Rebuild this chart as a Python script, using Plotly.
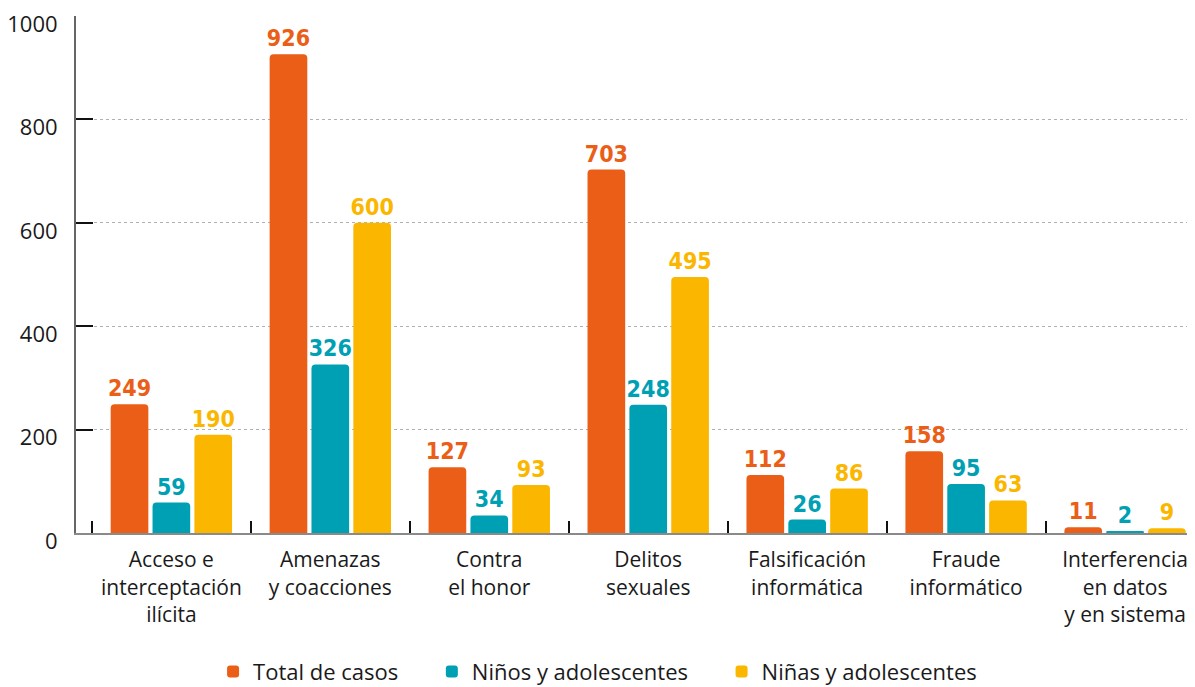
import plotly.graph_objects as go

categories = [
    "Acceso e<br>interceptación<br>ilícita",
    "Amenazas<br>y coacciones",
    "Contra<br>el honor",
    "Delitos<br>sexuales",
    "Falsificación<br>informática",
    "Fraude<br>informático",
    "Interferencia<br>en datos<br>y en sistema",
]
total = [249, 926, 127, 703, 112, 158, 11]
ninos = [59, 326, 34, 248, 26, 95, 2]
ninas = [190, 600, 93, 495, 86, 63, 9]

pad = "\u00a0" * 5
series = [
    ("Total de casos" + pad, total, "#EB5E17"),
    ("Niños y adolescentes" + pad, ninos, "#00A0B4"),
    ("Niñas y adolescentes", ninas, "#FBB600"),
]

label_font = "DejaVu Sans Condensed"
main_font = "Open Sans, Lato, sans-serif"

fig = go.Figure()
for name, vals, col in series:
    fig.add_trace(go.Bar(
        name=name, x=categories, y=vals,
        marker=dict(color=col, line=dict(width=0)),
        text=[str(v) for v in vals], textposition="outside",
        textfont=dict(family=label_font, size=23, color=col, weight="bold"),
        cliponaxis=False, constraintext="none",
    ))

# page body adds an 8px offset; figure is sized to fit the viewport
fig.update_layout(
    width=1187, height=679,
    margin=dict(l=68, r=0, t=8, b=154, autoexpand=False),
    paper_bgcolor="white", plot_bgcolor="white",
    barmode="group", bargap=0.21, bargroupgap=0.1,
    barcornerradius=4,
    font=dict(family=main_font, size=21, color="#1a1a1a"),
    showlegend=True,
    legend=dict(orientation="h", x=0.1225, xanchor="left", y=-0.2685, yanchor="middle",
                font=dict(size=22, family=main_font), traceorder="normal"),
)
fig.update_xaxes(
    range=[-0.6, 6.44], automargin=False,
    showline=True, linecolor="#8a8a8a", linewidth=2,
    ticks="inside", tickson="boundaries", ticklen=12, tickcolor="#111", tickwidth=1.5,
    showgrid=False, tickfont=dict(size=21), ticklabelstandoff=7,
)
fig.update_yaxes(
    range=[0, 1000], tickvals=[0, 200, 400, 600, 800, 1000], automargin=False,
    showline=True, linecolor="#666", linewidth=2,
    ticks="inside", ticklen=17, tickcolor="#111", tickwidth=1.5,
    showgrid=True, gridcolor="#b0b0b0", griddash="dot", gridwidth=1,
    zeroline=False, tickfont=dict(size=22), ticklabelstandoff=12,
    ticklabelshift=8, ticklabeloverflow="allow",
)

fig.write_html("out.html")
